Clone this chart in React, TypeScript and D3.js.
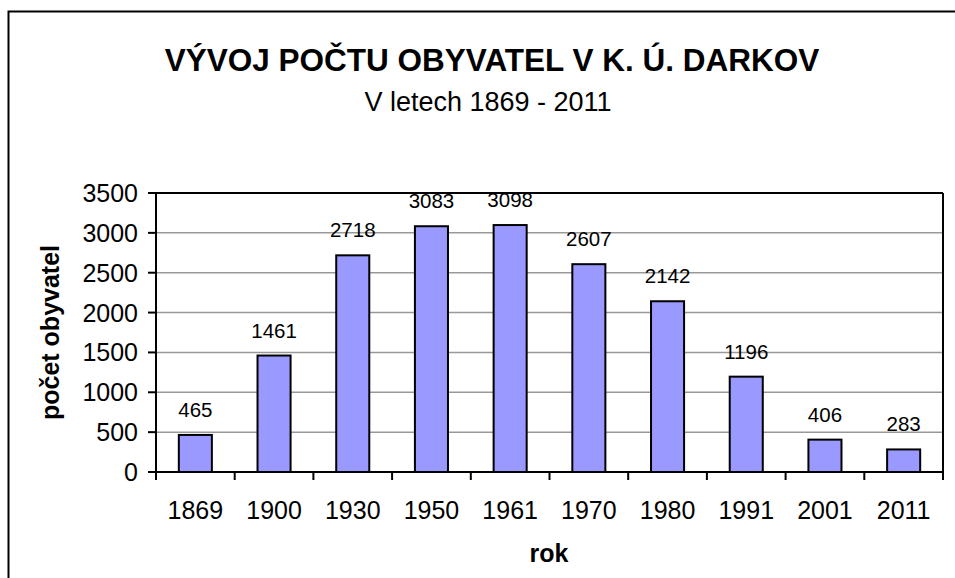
import React from "react";
import * as d3 from "d3";

const years = ["1869", "1900", "1930", "1950", "1961", "1970", "1980", "1991", "2001", "2011"];
const population = [465, 1461, 2718, 3083, 3098, 2607, 2142, 1196, 406, 283];
const yTicks = [0, 500, 1000, 1500, 2000, 2500, 3000, 3500];

export default function App() {
  const W = 955, H = 578;
  const left = 156, right = 943, top = 193, bottom = 472;
  const x = d3.scaleBand().domain(years).range([left, right]).paddingInner(0.58).paddingOuter(0.29);
  const xc = d3.scaleBand().domain(years).range([left, right]);
  const y = d3.scaleLinear().domain([0, 3500]).range([bottom, top]);
  const font = "'Liberation Sans', Arial, sans-serif";
  return (
    <svg width={W} height={H} style={{ position: "absolute", left: 0, top: 0 }} fontFamily={font}>
      <rect x={0} y={0} width={W} height={H} fill="#fff" />
      <rect x={8.5} y={11.5} width={W + 20} height={H + 20} fill="none" stroke="#000" strokeWidth={2} />
      <text x={492} y={71} textAnchor="middle" fontSize={31.5} fontWeight="bold">VÝVOJ POČTU OBYVATEL V K. Ú. DARKOV</text>
      <text x={488} y={111} textAnchor="middle" fontSize={27}>V letech 1869 - 2011</text>
      {yTicks.map((t) => (
        <g key={t}>
          {t > 0 && t < 3500 && <line x1={left} x2={right} y1={y(t)} y2={y(t)} stroke="#999" strokeWidth={1.5} />}
          <line x1={left - 8} x2={left} y1={y(t)} y2={y(t)} stroke="#000" strokeWidth={2} />
          <text x={left - 18} y={y(t)} dy="0.36em" textAnchor="end" fontSize={25}>{t}</text>
        </g>
      ))}
      <line x1={left} x2={right} y1={top} y2={top} stroke="#000" strokeWidth={2} />
      <line x1={right} x2={right} y1={top} y2={bottom} stroke="#000" strokeWidth={2} />
      {years.map((yr, i) => (
        <g key={yr}>
          <rect x={x(yr)} y={y(population[i])} width={x.bandwidth()} height={bottom - y(population[i])} fill="#9999FF" stroke="#000" strokeWidth={2} />
          <text x={(x(yr) as number) + x.bandwidth() / 2} y={y(population[i]) - 18} textAnchor="middle" fontSize={20.5}>{population[i]}</text>
          <text x={(xc(yr) as number) + xc.bandwidth() / 2} y={519} textAnchor="middle" fontSize={25}>{yr}</text>
        </g>
      ))}
      {years.map((yr) => (
        <line key={"t" + yr} x1={xc(yr)} x2={xc(yr)} y1={bottom} y2={bottom + 8} stroke="#000" strokeWidth={2} />
      ))}
      <line x1={right} x2={right} y1={bottom} y2={bottom + 8} stroke="#000" strokeWidth={2} />
      <line x1={left} x2={left} y1={top} y2={bottom + 8} stroke="#000" strokeWidth={2} />
      <line x1={left - 8} x2={right} y1={bottom} y2={bottom} stroke="#000" strokeWidth={2} />
      <text x={549} y={562} textAnchor="middle" fontSize={25} fontWeight="bold">rok</text>
      <text transform={`translate(59,${(top + bottom) / 2}) rotate(-90)`} textAnchor="middle" fontSize={25} fontWeight="bold">počet obyvatel</text>
    </svg>
  );
}
